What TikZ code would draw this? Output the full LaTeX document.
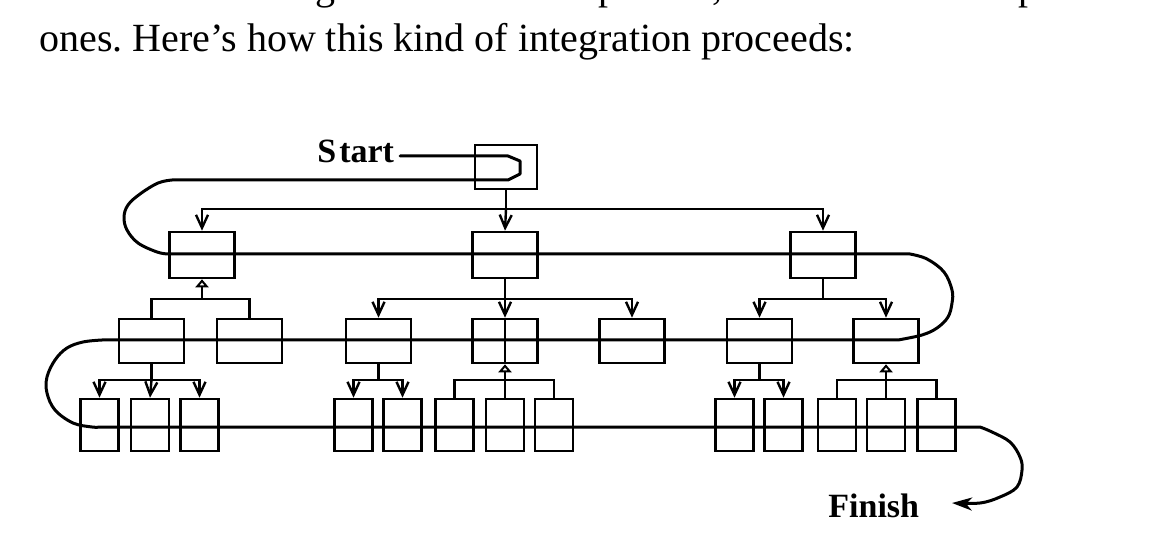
\documentclass[tikz,border=0pt]{standalone}
\usepackage{fontspec}
\setmainfont{Liberation Serif}
\usetikzlibrary{arrows.meta}
\frenchspacing
\begin{document}
\begin{tikzpicture}[x=0.5pt,y=-0.5pt,
  bx/.style={draw, line width=1.3pt, inner sep=0pt},
  lbox/.style={bx, minimum width=32.5pt, minimum height=23pt},
  mbox/.style={bx, minimum width=32.5pt, minimum height=22pt},
  sbox/.style={bx, minimum width=19pt, minimum height=26pt},
  conn/.style={line width=1.2pt},
  down/.style={conn, -{Straight Barb[length=6.5pt,width=6pt,line width=1.2pt]}},
  uptri/.style={conn, -{Triangle[open,length=4pt,width=6.5pt,line width=1.1pt]}},
  trace/.style={line width=1.5pt, line join=round, line cap=round},
  lab/.style={anchor=base west, inner sep=0pt, font=\fontsize{17pt}{20pt}\selectfont\bfseries},
  body/.style={anchor=base west, inner sep=0pt, font=\fontsize{20pt}{24pt}\selectfont}
]
\useasboundingbox (0,0) rectangle (1154,560);

% text
\node[body] (f1) at (315,0) {g};
\node[body] (f2) at (598,0) {p};
\node[body] (f3) at (712,0) {,};
\node[body] (f4) at (1018,0) {p};
\node[body] (txt) at (39,52) {ones. Here’s how this kind of integration proceeds:};

% boxes
\node[bx, minimum width=31pt, minimum height=22pt] (S) at (506,167) {};
\node[lbox] (A) at (202,255) {};
\node[lbox] (B) at (505,255) {};
\node[lbox] (C) at (823,255) {};

\node[mbox] (A1) at (151.5,341) {};
\node[mbox] (A2) at (249.5,341) {};
\node[mbox] (B1) at (378.5,341) {};
\node[mbox] (B2) at (505,341) {};
\node[mbox] (B3) at (632,341) {};
\node[mbox] (C1) at (759.5,341) {};
\node[mbox] (C2) at (886,341) {};

\node[sbox] (A11) at (99.5,425) {};
\node[sbox] (A12) at (150,425) {};
\node[sbox] (A13) at (199.5,425) {};
\node[sbox] (B11) at (353.5,425) {};
\node[sbox] (B12) at (402.5,425) {};
\node[sbox] (B21) at (454.5,425) {};
\node[sbox] (B22) at (505,425) {};
\node[sbox] (B23) at (554,425) {};
\node[sbox] (C11) at (734.5,425) {};
\node[sbox] (C12) at (783.5,425) {};
\node[sbox] (C21) at (837,425) {};
\node[sbox] (C22) at (886,425) {};
\node[sbox] (C23) at (936.5,425) {};

% labels
\node[lab] (st) at (317,163) {S\hspace{1.5pt}tart};
\node[lab] (fin) at (828,517) {Finish};

% bus coordinates
\coordinate (b0) at (506,209);
\coordinate (bA) at (202,299);
\coordinate (bB) at (505,299);
\coordinate (bC) at (823,299);
\coordinate (bA1) at (151.5,380);
\coordinate (bB1) at (378.5,380);
\coordinate (bB2) at (505,380);
\coordinate (bC1) at (759.5,380);
\coordinate (bC2) at (886,380);

% level 0 -> 1
\draw[conn] (S.south) -- (b0);
\draw[down] (b0) -| (A.north);
\draw[down] (b0) -- (B.north);
\draw[down] (b0) -| (C.north);

% A (bottom-up)
\draw[uptri] (bA) -- (A.south);
\draw[conn] (bA) -| (A1.north);
\draw[conn] (bA) -| (A2.north);
% B (top-down)
\draw[conn] (B.south) -- (bB);
\draw[down] (bB) -| (B1.north);
\draw[down] (bB) -- (B2.north);
\draw[down] (bB) -| (B3.north);
% C (top-down)
\draw[conn] (C.south) -- (bC);
\draw[down] (bC) -| (C1.north);
\draw[down] (bC) -| (C2.north);

% A1 (top-down)
\draw[conn] (A1.south) -- (bA1);
\draw[down] (bA1) -| (A11.north);
\draw[down] (bA1) -- (A12.north);
\draw[down] (bA1) -| (A13.north);
% B1 (top-down)
\draw[conn] (B1.south) -- (bB1);
\draw[down] (bB1) -| (B11.north);
\draw[down] (bB1) -| (B12.north);
% B2 (bottom-up)
\draw[conn] (B2.north) -- (B2.south);
\draw[uptri] (bB2) -- (B2.south);
\draw[conn] (bB2) -| (B21.north);
\draw[conn] (bB2) -- (B22.north);
\draw[conn] (bB2) -| (B23.north);
% C1 (top-down)
\draw[conn] (C1.south) -- (bC1);
\draw[down] (bC1) -| (C11.north);
\draw[down] (bC1) -| (C12.north);
% C2 (bottom-up)
\draw[uptri] (bC2) -- (C2.south);
\draw[conn] (bC2) -| (C21.north);
\draw[conn] (bC2) -- (C22.north);
\draw[conn] (bC2) -| (C23.north);

% integration trace
\coordinate (s0) at (400,156);
\coordinate (tip) at (952,503);
\draw[trace, -{Stealth[length=10pt,width=6.5pt,inset=3pt]}]
  (s0) -- (508,156) -- (520,161) -- (520,174) -- (508,180) -- (172,180)
  -- plot[smooth, tension=0.6] coordinates {(172,180) (158,183) (140,194) (128,205) (124,217) (127,230) (138,243) (157,252) (168,254)}
  -- (910,254)
  -- plot[smooth, tension=0.6] coordinates {(910,254) (927,259) (944,272) (952,290) (952,303) (948,317) (937,328) (922,335) (898,340)}
  -- (102,340)
  -- plot[smooth, tension=0.6] coordinates {(102,340) (83,342) (67,348) (55,360) (47,377) (47,393) (55,410) (73,423) (92,427) (100,427)}
  -- (980,427)
  -- plot[smooth, tension=0.6] coordinates {(980,427) (992,432) (1010,442) (1020,457) (1022,470) (1017,487) (1000,497) (980,503) (tip)};
\end{tikzpicture}
\end{document}
